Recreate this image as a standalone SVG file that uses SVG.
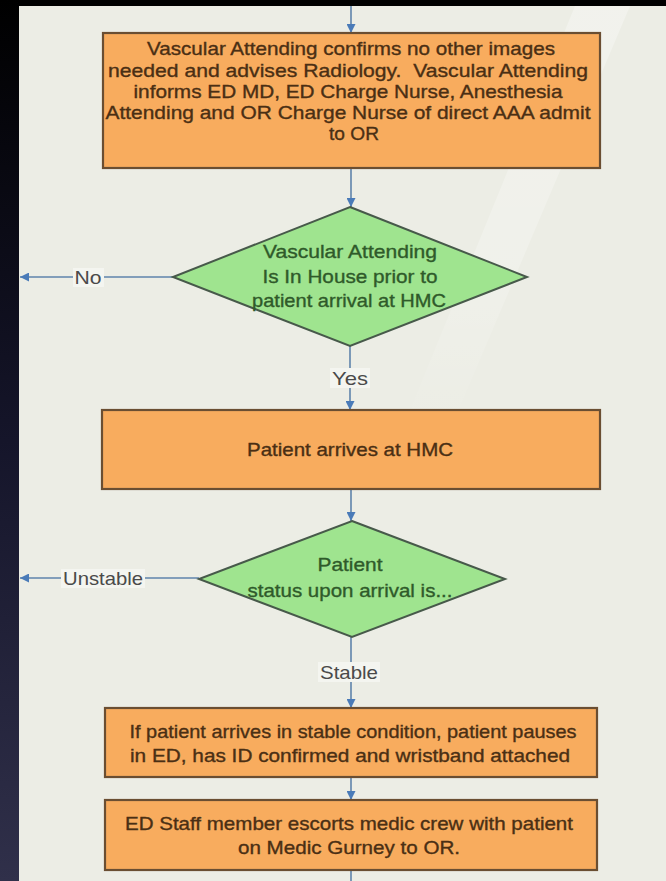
<svg xmlns="http://www.w3.org/2000/svg" width="666" height="881" viewBox="0 0 666 881">
<defs>
<linearGradient id="dark" x1="0" y1="0" x2="0" y2="1">
<stop offset="0" stop-color="#000000"/>
<stop offset="0.5" stop-color="#15152a"/>
<stop offset="1" stop-color="#30304a"/>
</linearGradient>
<linearGradient id="glare" x1="0" y1="0" x2="0" y2="1">
<stop offset="0" stop-color="#ffffff" stop-opacity="0.3"/>
<stop offset="0.6" stop-color="#ffffff" stop-opacity="0.22"/>
<stop offset="1" stop-color="#ffffff" stop-opacity="0"/>
</linearGradient>
<marker id="arr" viewBox="0 0 10 10" refX="10" refY="5" markerWidth="9" markerHeight="9" markerUnits="userSpaceOnUse" orient="auto">
<path d="M0,0 L10,5 L0,10 z" fill="#4a7bb8"/>
</marker>
<style>
.box{fill:#f8ac5e;stroke:#6a4e32;stroke-width:2.2}
.dia{fill:#9fe48f;stroke:#47594a;stroke-width:2}
.bt{font-family:"Liberation Sans",Arial,sans-serif;font-size:18.5px;fill:#4a2f14;stroke:#4a2f14;stroke-width:0.35;text-anchor:middle}
.dt{font-family:"Liberation Sans",Arial,sans-serif;font-size:18.5px;fill:#2f5a2a;stroke:#2f5a2a;stroke-width:0.35;text-anchor:middle}
.lbl{font-family:"Liberation Sans",Arial,sans-serif;font-size:18.5px;fill:#4a4a4a;text-anchor:middle}
.lb{fill:#f4f5f0}
.con{stroke:#5f83ab;stroke-width:1.6;fill:none}
</style>
</defs>

<rect x="0" y="0" width="666" height="881" fill="#000"/>
<rect x="0" y="0" width="19" height="881" fill="url(#dark)"/>
<rect x="19" y="6" width="647" height="875" fill="#ecede5"/>
<polygon points="575,6 630,6 450,430 402,430" fill="url(#glare)"/>

<g id="connectors">
<line class="con" x1="351" y1="6" x2="351" y2="33" marker-end="url(#arr)"/>
<line class="con" x1="351" y1="168" x2="351" y2="207" marker-end="url(#arr)"/>
<line class="con" x1="173" y1="277" x2="20" y2="277" marker-end="url(#arr)"/>
<rect class="lb" x="73" y="268" width="31" height="19"/>
<text class="lbl" x="88" y="283.5" textLength="27" lengthAdjust="spacingAndGlyphs">No</text>
<line class="con" x1="350" y1="346" x2="350" y2="410" marker-end="url(#arr)"/>
<rect class="lb" x="330" y="368" width="40" height="20"/>
<text class="lbl" x="350" y="384.5" textLength="36" lengthAdjust="spacingAndGlyphs">Yes</text>
<line class="con" x1="351" y1="489" x2="351" y2="521" marker-end="url(#arr)"/>
<line class="con" x1="199" y1="578" x2="20" y2="578" marker-end="url(#arr)"/>
<rect class="lb" x="61" y="569" width="84" height="19"/>
<text class="lbl" x="103" y="584.5" textLength="80" lengthAdjust="spacingAndGlyphs">Unstable</text>
<line class="con" x1="351" y1="637" x2="351" y2="708" marker-end="url(#arr)"/>
<rect class="lb" x="318" y="662" width="62" height="20"/>
<text class="lbl" x="349" y="678.5" textLength="58" lengthAdjust="spacingAndGlyphs">Stable</text>
<line class="con" x1="351" y1="777" x2="351" y2="800" marker-end="url(#arr)"/>
<line class="con" x1="351" y1="870" x2="351" y2="890" marker-end="url(#arr)"/>
</g>

<g id="n1">
<rect class="box" x="103" y="33" width="497" height="135"/>
<text class="bt" x="351" y="55" textLength="408" lengthAdjust="spacingAndGlyphs">Vascular Attending confirms no other images</text>
<text class="bt" x="348" y="76.5" textLength="480" lengthAdjust="spacingAndGlyphs">needed and advises Radiology.&#160; Vascular Attending</text>
<text class="bt" x="348" y="97.5" textLength="429" lengthAdjust="spacingAndGlyphs">informs ED MD, ED Charge Nurse, Anesthesia</text>
<text class="bt" x="348" y="119" textLength="485" lengthAdjust="spacingAndGlyphs">Attending and OR Charge Nurse of direct AAA admit</text>
<text class="bt" x="354" y="140" textLength="50" lengthAdjust="spacingAndGlyphs">to OR</text>
</g>

<g id="d1">
<polygon class="dia" points="350,207 527,277 350,346 173,277"/>
<text class="dt" x="350" y="258" textLength="174" lengthAdjust="spacingAndGlyphs">Vascular Attending</text>
<text class="dt" x="350" y="283" textLength="175" lengthAdjust="spacingAndGlyphs">Is In House prior to</text>
<text class="dt" x="349" y="307" textLength="194" lengthAdjust="spacingAndGlyphs">patient arrival at HMC</text>
</g>

<g id="n2">
<rect class="box" x="102" y="410" width="498" height="79"/>
<text class="bt" x="350" y="455.5" textLength="206" lengthAdjust="spacingAndGlyphs">Patient arrives at HMC</text>
</g>

<g id="d2">
<polygon class="dia" points="352,521 505,579 352,637 199,579"/>
<text class="dt" x="350" y="571" textLength="65" lengthAdjust="spacingAndGlyphs">Patient</text>
<text class="dt" x="350" y="597" textLength="205" lengthAdjust="spacingAndGlyphs">status upon arrival is...</text>
</g>

<g id="n3">
<rect class="box" x="105" y="708" width="492" height="69"/>
<text class="bt" x="353" y="737.5" textLength="447" lengthAdjust="spacingAndGlyphs">If patient arrives in stable condition, patient pauses</text>
<text class="bt" x="350" y="761.5" textLength="440" lengthAdjust="spacingAndGlyphs">in ED, has ID confirmed and wristband attached</text>
</g>

<g id="n4">
<rect class="box" x="105" y="800" width="492" height="70"/>
<text class="bt" x="349" y="829.5" textLength="448" lengthAdjust="spacingAndGlyphs">ED Staff member escorts medic crew with patient</text>
<text class="bt" x="349" y="853.5" textLength="222" lengthAdjust="spacingAndGlyphs">on Medic Gurney to OR.</text>
</g>
</svg>
